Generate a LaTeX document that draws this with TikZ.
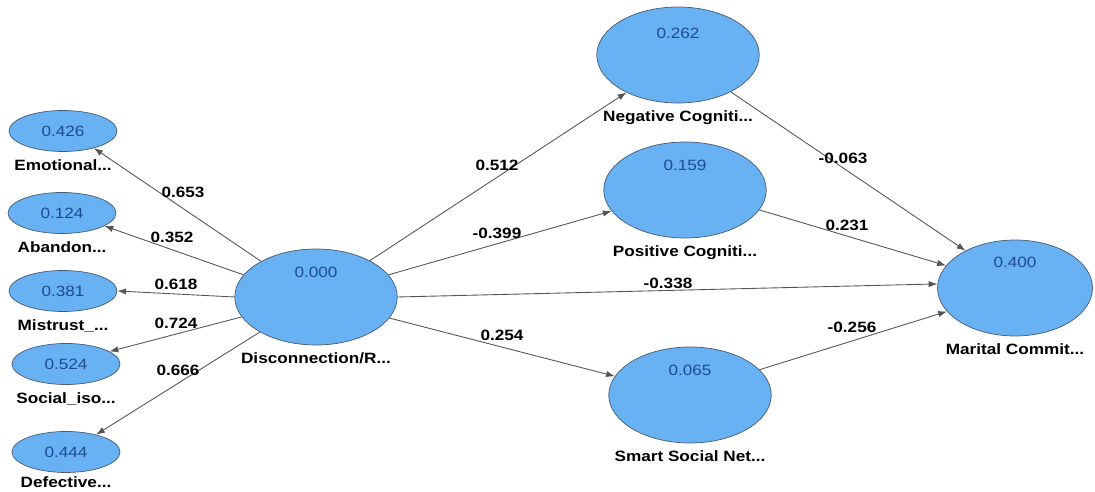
\documentclass[tikz,border=0pt]{standalone}
\usepackage{fontspec}
\setmainfont{Liberation Sans}[FakeStretch=1.15]
\usetikzlibrary{shapes.geometric,arrows.meta,positioning}

\definecolor{latfill}{RGB}{104,178,244}
\definecolor{latdraw}{RGB}{70,90,115}
\definecolor{valtext}{RGB}{30,75,140}
\definecolor{conngray}{RGB}{85,85,85}

\tikzset{
  latent/.style={ellipse,draw=latdraw,fill=latfill,inner sep=0pt,
    minimum width=2.16cm,minimum height=0.82cm},
  biglatent/.style={latent,minimum width=3.25cm,minimum height=1.92cm},
  value/.style={text=valtext,font=\fontsize{8.5}{10}\selectfont,inner sep=0pt},
  latname/.style={font=\fontsize{8.5}{10}\selectfont\bfseries,inner sep=0pt},
  weight/.style={font=\fontsize{8.5}{10}\selectfont\bfseries,inner sep=0pt},
  conn/.style={draw=conngray,line width=0.5pt,-{Latex[length=5pt,width=3.6pt]}}
}

\begin{document}
\begin{tikzpicture}[x=0.02cm,y=-0.02cm]
	\useasboundingbox (0,0) rectangle (1095,492);
	% indicators
	\node[latent] (emo) at (63,131) {};
	\node[value] (emoV) at (emo) {0.426};
	\node[latname,below=4pt of emo] (emoL) {Emotional...};
	\node[latent] (aba) at (62,213) {};
	\node[value] (abaV) at (aba) {0.124};
	\node[latname,below=4pt of aba] (abaL) {Abandon...};
	\node[latent] (mis) at (63,291) {};
	\node[value] (misV) at (mis) {0.381};
	\node[latname,below=4pt of mis] (misL) {Mistrust\_...};
	\node[latent] (soc) at (66,364) {};
	\node[value] (socV) at (soc) {0.524};
	\node[latname,below=4pt of soc] (socL) {Social\_iso...};
	\node[latent] (def) at (66,452) {};
	\node[value] (defV) at (def) {0.444};
	\node[latname,below=2pt of def] (defL) {Defective...};
	% latent variables
	\node[biglatent] (disc) at (316,297) {};
	\node[value] (discV) at ([yshift=0.5cm]disc.center) {0.000};
	\node[latname,below=4pt of disc] (discL) {Disconnection/R...};
	\node[biglatent] (neg) at (678,55) {};
	\node[value] (negV) at ([yshift=0.44cm]neg.center) {0.262};
	\node[latname,below=4pt of neg] (negL) {Negative Cogniti...};
	\node[biglatent] (pos) at (685,190) {};
	\node[value] (posV) at ([yshift=0.5cm]pos.center) {0.159};
	\node[latname,below=4pt of pos] (posL) {Positive Cogniti...};
	\node[biglatent] (sma) at (690,395) {};
	\node[value] (smaV) at ([yshift=0.5cm]sma.center) {0.065};
	\node[latname,below=4pt of sma] (smaL) {Smart Social Net...};
	\node[biglatent,minimum width=3.1cm] (mar) at (1015,288) {};
	\node[value] (marV) at ([yshift=0.52cm]mar.center) {0.400};
	\node[latname,below=4pt of mar] (marL) {Marital Commit...};
	% outer loadings
	\draw[conn] (disc.147) -- (emo.331);
	\draw[conn] (disc.163) -- (aba.343);
	\draw[conn] (disc.west) -- (mis.east);
	\draw[conn] (disc.195) -- (soc.16);
	\draw[conn] (disc.212) -- (def.30);
	\node[weight] (wEmo) at (183,192) {0.653};
	\node[weight] (wAba) at (172,237) {0.352};
	\node[weight] (wMis) at (176,284) {0.618};
	\node[weight] (wSoc) at (176,323) {0.724};
	\node[weight] (wDef) at (178,370) {0.666};
	% path coefficients
	\draw[conn] (disc.34) -- (neg.216);
	\draw[conn] (disc.17) -- (pos.196);
	\draw[conn] (disc.east) -- (mar.177);
	\draw[conn] (disc.344) -- (sma.166);
	\draw[conn] (neg.325) -- (mar.143);
	\draw[conn] (pos.345) -- (mar.162);
	\draw[conn] (sma.20) -- (mar.199);
	\node[weight] (wNeg) at (497,165) {0.512};
	\node[weight] (wPos) at (497,233) {-0.399};
	\node[weight] (wMar) at (668,283) {-0.338};
	\node[weight] (wSma) at (502,335) {0.254};
	\node[weight] (wNM) at (843,158) {-0.063};
	\node[weight] (wPM) at (847,225) {0.231};
	\node[weight] (wSM) at (852,327) {-0.256};
\end{tikzpicture}
\end{document}
